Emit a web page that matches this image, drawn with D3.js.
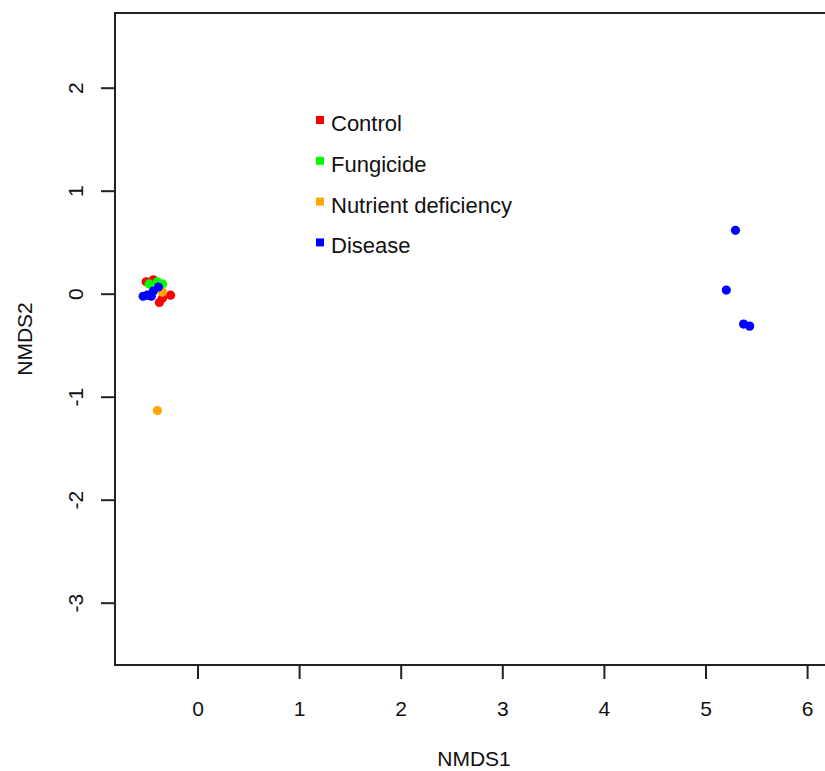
<!DOCTYPE html>
<html>
<head>
<meta charset="utf-8">
<script src="https://cdn.jsdelivr.net/npm/d3@7"></script>
<style>
  body { margin: 0; background: #fff; }
  text { font-family: "Liberation Sans", Arial, sans-serif; fill: #111; }
</style>
</head>
<body>
<div id="chart"></div>
<script>
// groups and their colours (legend order)
let groups = ["Control", "Fungicide", "Nutrient deficiency", "Disease"];
let colors = ["#ff0000", "#00ff00", "#ffa500", "#0000ff"];

// NMDS scores, one array per group
let control   = [[-0.51, 0.12], [-0.44, 0.14], [-0.27, -0.01], [-0.38, -0.08], [-0.35, -0.04]];
let fungicide = [[-0.40, 0.12], [-0.35, 0.10], [-0.48, 0.10], [-0.37, 0.05]];
let nutrient  = [[-0.35, 0.02], [-0.40, -1.13]];
let disease   = [[-0.50, -0.01], [-0.44, 0.03], [-0.39, 0.07], [-0.54, -0.02], [-0.46, -0.02],
                 [5.29, 0.62], [5.20, 0.04], [5.37, -0.29], [5.43, -0.31]];

let xTicks = [0, 1, 2, 3, 4, 5, 6];
let yTicks = [-3, -2, -1, 0, 1, 2];

let W = 825, H = 771;
let m = {top: 13, left: 115, right: -8, bottom: 106};

let svg = d3.select("#chart")
    .append("svg")
    .attr("width", W)
    .attr("height", H);

let x = d3.scaleLinear()
    .domain([-0.817, 6.25])
    .range([m.left, W - m.right]);

let y = d3.scaleLinear()
    .domain([-3.6, 2.73])
    .range([H - m.bottom, m.top]);

let g = svg.append("g");

// x axis ticks + labels
let xa = g.append("g").attr("transform", "translate(0," + (H - m.bottom) + ")");
xa.selectAll("line").data(xTicks).enter().append("line")
    .attr("x1", d => x(d)).attr("x2", d => x(d))
    .attr("y1", 0).attr("y2", 14)
    .attr("stroke", "#222").attr("stroke-width", 2);
xa.selectAll("text").data(xTicks).enter().append("text")
    .attr("x", d => x(d)).attr("y", 51)
    .attr("text-anchor", "middle")
    .style("font-size", "21px")
    .text(d => d);

// y axis ticks + rotated labels
let ya = g.append("g").attr("transform", "translate(" + m.left + ",0)");
ya.selectAll("line").data(yTicks).enter().append("line")
    .attr("x1", -14).attr("x2", 0)
    .attr("y1", d => y(d)).attr("y2", d => y(d))
    .attr("stroke", "#222").attr("stroke-width", 2);
ya.selectAll("text").data(yTicks).enter().append("text")
    .attr("transform", d => "translate(-32," + y(d) + ") rotate(-90)")
    .attr("text-anchor", "middle")
    .style("font-size", "21px")
    .text(d => d);

// axis titles
svg.append("text")
    .attr("x", (m.left + W - m.right) / 2).attr("y", 766)
    .attr("text-anchor", "middle")
    .style("font-size", "21px")
    .text("NMDS1");
svg.append("text")
    .attr("transform", "translate(32," + ((m.top + H - m.bottom) / 2) + ") rotate(-90)")
    .attr("text-anchor", "middle")
    .style("font-size", "21px")
    .text("NMDS2");

// points, drawn group by group
let series = [control, fungicide, nutrient, disease];
series.forEach((pts, i) => {
    g.append("g").selectAll("circle")
        .data(pts)
        .enter()
        .append("circle")
        .attr("cx", d => x(d[0]))
        .attr("cy", d => y(d[1]))
        .attr("r", 4.6)
        .attr("fill", colors[i]);
});

// legend
let lg = svg.append("g").attr("transform", "translate(316,116)");
let rowStep = 40.8;
lg.selectAll("rect").data(groups).enter().append("rect")
    .attr("x", 0).attr("y", (d, i) => i * rowStep)
    .attr("width", 8).attr("height", 8)
    .attr("fill", (d, i) => colors[i]);
lg.selectAll("text").data(groups).enter().append("text")
    .attr("x", 15).attr("y", (d, i) => i * rowStep + 15)
    .style("font-size", "22px")
    .text(d => d);

// plot box
svg.append("rect")
    .attr("x", m.left).attr("y", m.top)
    .attr("width", W - m.right - m.left)
    .attr("height", H - m.bottom - m.top)
    .attr("fill", "none")
    .attr("stroke", "#222").attr("stroke-width", 2);
</script>
</body>
</html>
